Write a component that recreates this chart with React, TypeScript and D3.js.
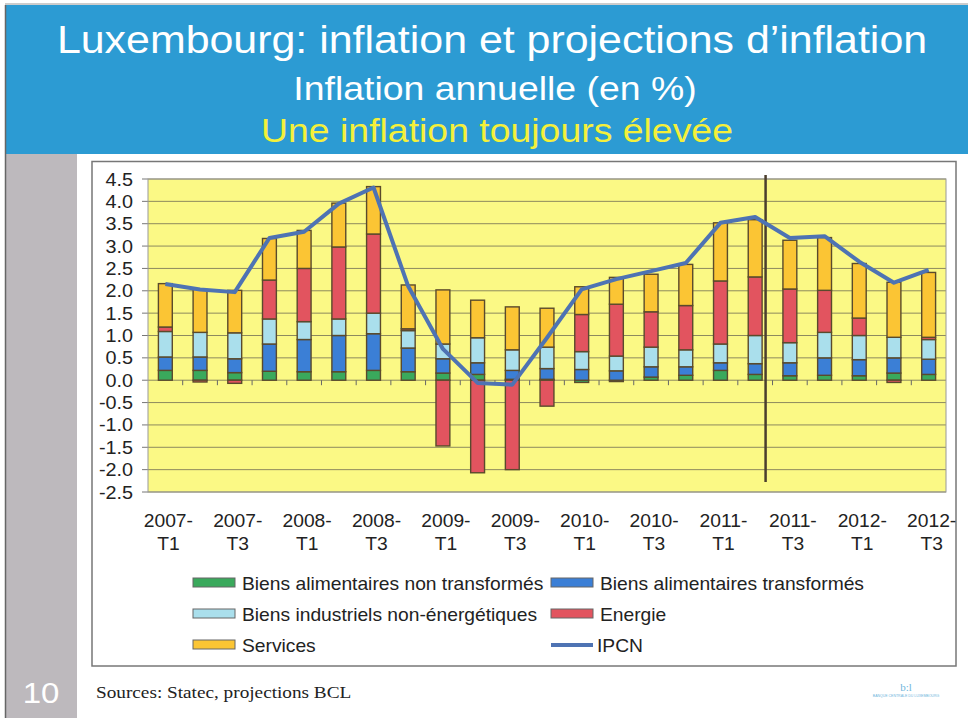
import * as d3 from "d3";

// quarters on the x axis
const quarters = [
  "2007-T1", "2007-T2", "2007-T3", "2007-T4",
  "2008-T1", "2008-T2", "2008-T3", "2008-T4",
  "2009-T1", "2009-T2", "2009-T3", "2009-T4",
  "2010-T1", "2010-T2", "2010-T3", "2010-T4",
  "2011-T1", "2011-T2", "2011-T3", "2011-T4",
  "2012-T1", "2012-T2", "2012-T3",
];

// contributions, percentage points
const alimNonTransf = [0.22, 0.22, 0.17, 0.2, 0.19, 0.19, 0.22, 0.19, 0.16, 0.13, 0.02, 0.02, -0.05, -0.03, 0.07, 0.11, 0.22, 0.13, 0.1, 0.11, 0.1, 0.16, 0.13];
const alimTransf = [0.3, 0.3, 0.31, 0.61, 0.72, 0.81, 0.82, 0.53, 0.32, 0.26, 0.2, 0.24, 0.24, 0.21, 0.23, 0.19, 0.17, 0.24, 0.29, 0.39, 0.36, 0.34, 0.34];
const industriels = [0.57, 0.55, 0.58, 0.56, 0.4, 0.37, 0.46, 0.39, 0.33, 0.56, 0.46, 0.48, 0.4, 0.33, 0.44, 0.38, 0.42, 0.63, 0.45, 0.57, 0.54, 0.46, 0.44];
const energie = [0.1, -0.04, -0.07, 0.87, 1.19, 1.61, 1.77, 0.04, -1.47, -2.07, -2.0, -0.58, 0.83, 1.16, 0.79, 0.99, 1.41, 1.31, 1.2, 0.94, 0.39, -0.05, 0.05];
const services = [0.97, 0.96, 0.95, 0.93, 0.85, 0.98, 1.06, 0.98, 1.21, 0.84, 0.96, 0.87, 0.62, 0.6, 0.84, 0.92, 1.3, 1.28, 1.09, 1.18, 1.22, 1.23, 1.45];
const ipcn = [2.15, 2.03, 1.97, 3.18, 3.32, 3.95, 4.31, 2.1, 0.7, -0.06, -0.1, 0.95, 2.03, 2.26, 2.44, 2.62, 3.52, 3.65, 3.18, 3.22, 2.65, 2.18, 2.47];

const yTicks = [-2.5, -2, -1.5, -1, -0.5, 0, 0.5, 1, 1.5, 2, 2.5, 3, 3.5, 4, 4.5];
const xTickLabels = quarters.filter((q, i) => i % 2 === 0);
const projectionStart = "2011-T2"; // forecast line drawn just after this quarter

const seriesKeys = ["alimNonTransf", "alimTransf", "industriels", "energie", "services"];
const seriesLabels = [
  "Biens alimentaires non transformés",
  "Biens alimentaires transformés",
  "Biens industriels non-énergétiques",
  "Energie",
  "Services",
];
const seriesColors = ["#3aa95c", "#3b7fd6", "#aadfec", "#e2545f", "#fbc534"];

const W = 970;
const H = 718;
const plot = { left: 148, right: 946, top: 179, bottom: 492 };
const FONT = "'Liberation Sans', Arial, sans-serif";
const SERIF = "'Liberation Serif', 'Times New Roman', serif";

// the slide was scanned a little wide, so text is stretched horizontally
function SText({ x, y, size, fill = "#222", anchor = "start", family = FONT, sx = 1.1, children }: any) {
  return (
    <text
      transform={`translate(${x},${y}) scale(${sx},1)`}
      textAnchor={anchor}
      fontSize={size}
      fill={fill}
      fontFamily={family}
    >
      {children}
    </text>
  );
}

export default function App() {
  const rows = quarters.map((q, i) => ({
    q,
    alimNonTransf: alimNonTransf[i],
    alimTransf: alimTransf[i],
    industriels: industriels[i],
    energie: energie[i],
    services: services[i],
  }));

  const stacked = d3.stack().keys(seriesKeys).offset(d3.stackOffsetDiverging)(rows as any);

  const x = d3
    .scaleBand()
    .domain(quarters)
    .range([plot.left, plot.right])
    .paddingInner(0.6)
    .paddingOuter(0.3);
  const y = d3.scaleLinear().domain([-2.5, 4.5]).range([plot.bottom, plot.top]);
  const cx = (q: string) => (x(q) as number) + x.bandwidth() / 2;

  const line = d3
    .line<number>()
    .x((d, i) => cx(quarters[i]))
    .y((d) => y(d));

  const step = x.step();
  const sepX = cx(projectionStart) + step * 0.3;

  const legendCol = [193, 551];
  const legendRow = [583, 614, 645];
  const legendItems = [
    ...seriesLabels.map((label, i) => ({ label, color: seriesColors[i], kind: "box" })),
    { label: "IPCN", color: "#4e73b3", kind: "line" },
  ];

  return (
    <svg
      width={W}
      height={H}
      style={{ position: "absolute", left: 0, top: 0, background: "#fff" }}
      fontFamily={FONT}
    >
      {/* slide frame */}
      <rect x={5} y={5} width={963} height={149} fill="#2c9bd3" />
      <line x1={5} x2={968} y1={4} y2={4} stroke="#999" strokeWidth={1} />
      <rect x={5} y={154} width={72} height={H - 154} fill="#bdb9bd" />
      <line x1={5.5} x2={5.5} y1={5} y2={H} stroke="#666" strokeWidth={1.5} />

      <SText x={492} y={53} anchor="middle" fill="#fff" size={39}>
        Luxembourg: inflation et projections d’inflation
      </SText>
      <SText x={495} y={100} anchor="middle" fill="#fff" size={34}>
        Inflation annuelle (en %)
      </SText>
      <SText x={497} y={142} anchor="middle" fill="#f4f03a" size={34}>
        Une inflation toujours élevée
      </SText>

      {/* chart box */}
      <rect x={92} y={161.5} width={864} height={504.5} fill="#fff" stroke="#777" strokeWidth={1.5} />

      {/* plot area */}
      <rect
        x={plot.left}
        y={plot.top}
        width={plot.right - plot.left}
        height={plot.bottom - plot.top}
        fill="#fbf985"
      />
      {yTicks.map((t) => (
        <g key={t}>
          <line x1={plot.left} x2={plot.right} y1={y(t)} y2={y(t)} stroke="#8d8a5e" strokeWidth={1} />
          <line x1={plot.left - 6} x2={plot.left} y1={y(t)} y2={y(t)} stroke="#777" strokeWidth={1} />
          <SText x={133} y={y(t) + 6.5} anchor="end" size={18}>
            {t.toFixed(1)}
          </SText>
        </g>
      ))}
      <rect
        x={plot.left}
        y={plot.top}
        width={plot.right - plot.left}
        height={plot.bottom - plot.top}
        fill="none"
        stroke="#999"
        strokeWidth={1}
      />

      {/* category ticks on zero line */}
      {quarters.slice(1).map((q) => (
        <line
          key={q}
          x1={(x(q) as number) - (step - x.bandwidth()) / 2}
          x2={(x(q) as number) - (step - x.bandwidth()) / 2}
          y1={y(0)}
          y2={y(0) + 5}
          stroke="#666"
          strokeWidth={1}
        />
      ))}

      {/* stacked bars */}
      {stacked.map((s, si) => (
        <g key={s.key} fill={seriesColors[si]} stroke="#5a4a2c" strokeWidth={1.4}>
          {s.map((d, i) =>
            Math.abs(d[1] - d[0]) < 1e-9 ? null : (
              <rect
                key={i}
                x={x(quarters[i])}
                width={x.bandwidth()}
                y={y(Math.max(d[0], d[1]))}
                height={Math.abs(y(d[0]) - y(d[1]))}
              />
            )
          )}
        </g>
      ))}

      {/* projection separator */}
      <line x1={sepX} x2={sepX} y1={175} y2={482} stroke="#4a3e2e" strokeWidth={2.5} />

      {/* IPCN */}
      <path d={line(ipcn) || ""} fill="none" stroke="#4e73b3" strokeWidth={4} strokeLinejoin="round" />

      {/* x labels */}
      {xTickLabels.map((q) => {
        const [yr, tq] = q.split("-");
        return (
          <g key={q}>
            <SText x={cx(q) + 3} y={527} anchor="middle" size={17.5}>
              {yr + "-"}
            </SText>
            <SText x={cx(q) + 3} y={550} anchor="middle" size={17.5}>
              {tq}
            </SText>
          </g>
        );
      })}

      {/* legend */}
      {legendItems.map((it, i) => {
        const lx = legendCol[i % 2];
        const ly = legendRow[Math.floor(i / 2)];
        return (
          <g key={it.label}>
            {it.kind === "box" ? (
              <rect x={lx} y={ly - 5} width={42} height={9} fill={it.color} stroke="#666" strokeWidth={1} />
            ) : (
              <line x1={lx} x2={lx + 42} y1={ly} y2={ly} stroke={it.color} strokeWidth={4} />
            )}
            <SText x={lx + (it.kind === "box" ? 49 : 46)} y={ly + 6.5} size={17.5}>
              {it.label}
            </SText>
          </g>
        );
      })}

      {/* footer */}
      <SText x={41} y={703} anchor="middle" fill="#fff" size={30}>
        10
      </SText>
      <SText x={96} y={698} family={SERIF} size={17.5}>
        Sources: Statec, projections BCL
      </SText>
      <text x={906} y={691} textAnchor="middle" fontFamily={SERIF} fontSize={11} fill="#6fb6dc">
        b:l
      </text>
      <text x={906} y={697} textAnchor="middle" fontSize={3.5} fill="#6fb6dc">
        BANQUE CENTRALE DU LUXEMBOURG
      </text>
    </svg>
  );
}
